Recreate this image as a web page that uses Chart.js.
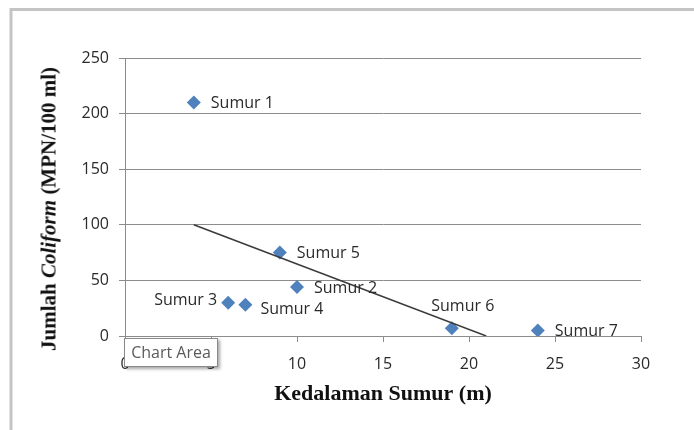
<!DOCTYPE html>
<html>
<head>
<meta charset="utf-8">
<script src="https://cdn.jsdelivr.net/npm/chart.js@4/dist/chart.umd.min.js"></script>
<style>
  html, body { margin: 0; padding: 0; background: #fff; }
  #wrap { position: relative; width: 694px; height: 430px; overflow: hidden; }
  #ytitle {
    position: absolute; left: 49px; top: 209px;
    transform: translate(-50%, -50%) rotate(-90deg);
    white-space: nowrap;
    font-family: "Liberation Serif", "Times New Roman", serif;
    font-weight: bold; font-size: 21px; color: #111;
  }
  #tip {
    position: absolute; left: 124px; top: 338px; width: 92px; height: 27px;
    border: 1px solid #8a8a8a; background: #fff;
    box-shadow: 2px 2px 3px rgba(0,0,0,0.35);
    font-family: "Open Sans", sans-serif; font-size: 16px; color: #5a5a5a;
    line-height: 27px; text-align: center; box-sizing: content-box;
  }
</style>
</head>
<body>
<div id="wrap">
  <canvas id="c" width="694" height="430"></canvas>
  <div id="ytitle">Jumlah <i>Coliform</i> (MPN/100 ml)</div>
  <div id="tip">Chart Area</div>
</div>
<script>
// ---- data ----
const wellNames = ["Sumur 1", "Sumur 2", "Sumur 3", "Sumur 4", "Sumur 5", "Sumur 6", "Sumur 7"];
const depthM    = [4, 10, 6, 7, 9, 19, 24];
const coliform  = [210, 44, 30, 28, 75, 7, 5];
const trendX    = [4, 21];
const trendY    = [100, 0];
const xTitle    = "Kedalaman Sumur (m)";

// label placement (style, not data)
const labelPlace = ["right", "right", "left", "rightLow", "right", "above", "right"];

const points = depthM.map((x, i) => ({ x: x, y: coliform[i] }));
const trend  = trendX.map((x, i) => ({ x: x, y: trendY[i] }));

const framePlugin = {
  id: 'frame',
  beforeDraw(chart) {
    const ctx = chart.ctx;
    ctx.save();
    ctx.fillStyle = '#fff';
    ctx.fillRect(0, 0, chart.width, chart.height);
    ctx.strokeStyle = '#c4c4c4';
    ctx.lineWidth = 3;
    ctx.beginPath();
    ctx.moveTo(11, 430);
    ctx.lineTo(11, 9.5);
    ctx.lineTo(694, 9.5);
    ctx.stroke();
    ctx.restore();
  }
};

const labelPlugin = {
  id: 'ptLabels',
  afterDatasetsDraw(chart) {
    const ctx = chart.ctx;
    const meta = chart.getDatasetMeta(1);
    ctx.save();
    ctx.font = '16px "Open Sans", sans-serif';
    ctx.fillStyle = '#2a2a2a';
    ctx.textBaseline = 'middle';
    meta.data.forEach((el, i) => {
      const p = labelPlace[i];
      let x = el.x, y = el.y;
      if (p === 'right') { ctx.textAlign = 'left'; x += 17; y += 1; }
      else if (p === 'rightLow') { ctx.textAlign = 'left'; x += 15; y += 5; }
      else if (p === 'left') { ctx.textAlign = 'right'; x -= 11; y -= 2; }
      else if (p === 'above') { ctx.textAlign = 'center'; x += 11; y -= 22; }
      ctx.fillText(wellNames[i], x, y);
    });
    ctx.restore();
  }
};

new Chart(document.getElementById('c'), {
  type: 'scatter',
  data: {
    datasets: [
      {
        label: 'Trend',
        data: trend,
        showLine: true,
        borderColor: '#3a3a3a',
        borderWidth: 1.5,
        pointRadius: 0,
        pointHoverRadius: 0,
        fill: false
      },
      {
        label: 'Sumur',
        data: points,
        pointStyle: 'rectRot',
        pointRadius: 7,
        pointHoverRadius: 7,
        backgroundColor: '#4f81bd',
        borderColor: '#4f81bd',
        borderWidth: 0
      }
    ]
  },
  options: {
    responsive: false,
    animation: false,
    devicePixelRatio: 1,
    layout: { padding: { left: 65, right: 53, top: 58, bottom: 18 } },
    plugins: {
      legend: { display: false },
      tooltip: { enabled: false },
      title: { display: false }
    },
    scales: {
      x: {
        type: 'linear',
        min: 0, max: 30,
        afterFit(s) { s.height = 76; },
        ticks: {
          stepSize: 5,
          padding: 13,
          color: '#2a2a2a',
          font: { family: '"Open Sans", sans-serif', size: 16 }
        },
        grid: {
          drawOnChartArea: false,
          drawTicks: true,
          tickLength: 6,
          color: '#8c8c8c'
        },
        border: { color: '#8c8c8c', width: 1 },
        title: {
          display: true,
          text: xTitle,
          color: '#111',
          padding: { top: 0 },
          font: { family: '"Liberation Serif", "Times New Roman", serif', weight: 'bold', size: 22 }
        }
      },
      y: {
        type: 'linear',
        min: 0, max: 250,
        afterFit(s) { s.width = 60; },
        ticks: {
          stepSize: 50,
          padding: 10,
          color: '#2a2a2a',
          font: { family: '"Open Sans", sans-serif', size: 16 }
        },
        grid: {
          drawOnChartArea: true,
          drawTicks: true,
          tickLength: 6,
          color: '#8c8c8c'
        },
        border: { color: '#8c8c8c', width: 1 }
      }
    }
  },
  plugins: [framePlugin, labelPlugin]
});
</script>
</body>
</html>
